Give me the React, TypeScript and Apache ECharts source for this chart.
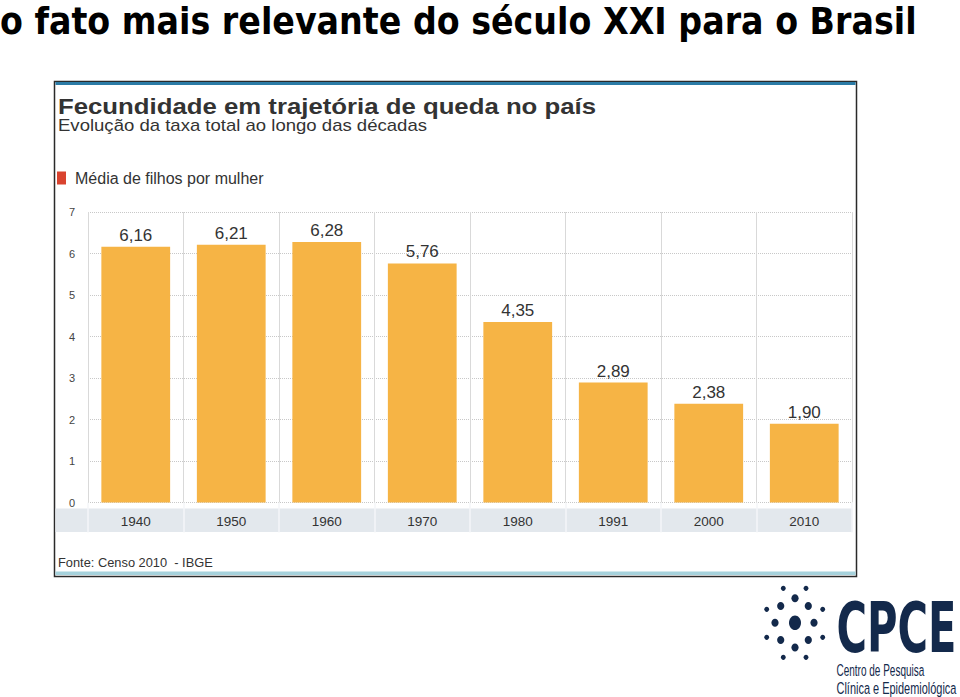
import React, { useEffect, useRef } from 'react';
import * as echarts from 'echarts';

const years = ['1940', '1950', '1960', '1970', '1980', '1991', '2000', '2010'];
const fertility = [6.16, 6.21, 6.28, 5.76, 4.35, 2.89, 2.38, 1.9];
const yMin = 0;
const yMax = 7;
const yInterval = 1;
const seriesName = 'Média de filhos por mulher';
const pageTitle = 'o fato mais relevante do século XXI para o Brasil';
const chartTitle = 'Fecundidade em trajetória de queda no país';
const chartSubtitle = 'Evolução da taxa total ao longo das décadas';
const sourceText = 'Fonte: Censo 2010  - IBGE';
const logoName = 'CPCE';
const logoLines = ['Centro de Pesquisa', 'Clínica e Epidemiológica'];

const NAVY = '#13294B';
const ARIAL = '"Liberation Sans", Arial, sans-serif';
const DEJAVU = '"DejaVu Sans", Verdana, sans-serif';

function fitScale(text: string, font: string, target: number): number {
  const ctx = document.createElement('canvas').getContext('2d');
  if (!ctx) return 1;
  ctx.font = font;
  const w = ctx.measureText(text).width;
  return w > 0 ? target / w : 1;
}

function fittedText(
  text: string,
  x: number,
  y: number,
  size: number,
  weight: string,
  family: string,
  fill: string,
  targetWidth: number,
  z = 10
) {
  const font = `${weight} ${size}px ${family}`;
  const s = fitScale(text, font, targetWidth);
  return {
    type: 'text',
    x,
    y,
    scaleX: s,
    z,
    style: {
      text,
      fill,
      fontSize: size,
      fontWeight: weight,
      fontFamily: family,
      textAlign: 'left',
      align: 'left',
      textVerticalAlign: 'middle',
      verticalAlign: 'middle',
    },
  };
}

// logo dots: [dx, dy, rx, ry] relative to center
const logoDots: number[][] = [
  [0, 0, 6, 7.3],
  [0, -24.5, 3.6, 4],
  [-14.3, -16.7, 3.6, 4],
  [13.3, -16.7, 3.6, 4],
  [-20, 0, 3.6, 4],
  [19, 0, 3.6, 4],
  [-14.3, 17.3, 3.6, 4],
  [13.3, 17.3, 3.6, 4],
  [0, 24.7, 3.6, 4],
  [-11.7, -34.4, 2.4, 2.6],
  [11, -34.4, 2.4, 2.6],
  [-28.3, -13.4, 2.4, 2.6],
  [27.7, -13.4, 2.4, 2.6],
  [-28.3, 14.6, 2.4, 2.6],
  [27.7, 14.6, 2.4, 2.6],
  [-11.7, 34.6, 2.4, 2.6],
  [11, 34.6, 2.4, 2.6],
];

export default function App() {
  const ref = useRef<HTMLDivElement>(null);

  useEffect(() => {
    if (!ref.current) return;
    const chart = echarts.init(ref.current, null, { renderer: 'svg' });

    const cx = 795;
    const cy = 622.7;

    const graphics: any[] = [
      // frame
      {
        type: 'rect',
        z: -20,
        shape: { x: 54.5, y: 81.5, width: 802, height: 495 },
        style: { fill: '#ffffff', stroke: '#2a2a2a', lineWidth: 1.5 },
      },
      {
        type: 'rect',
        z: -19,
        shape: { x: 55.5, y: 82, width: 800, height: 3 },
        style: { fill: '#2B7BA6' },
      },
      {
        type: 'rect',
        z: -19,
        shape: { x: 55.5, y: 571.5, width: 800, height: 3.5 },
        style: { fill: '#A6D2DC' },
      },
      // x axis band
      {
        type: 'rect',
        z: -10,
        shape: { x: 55.5, y: 508.5, width: 797, height: 23.5 },
        style: { fill: '#E3E8ED' },
      },
      // page title
      fittedText(pageTitle, 0, 20.5, 38, 'bold', DEJAVU, '#000000', 917),
      // chart title & subtitle
      fittedText(chartTitle, 58, 106.5, 21.5, 'bold', ARIAL, '#333333', 538),
      fittedText(chartSubtitle, 58, 125.5, 17, 'normal', ARIAL, '#333333', 369),
      fittedText(sourceText, 58, 563, 12.5, 'normal', ARIAL, '#333333', 155),
      // logo text
      fittedText(logoName, 836.5, 627.5, 69, 'bold', DEJAVU, NAVY, 120),
      fittedText(logoLines[0], 836.5, 670.5, 16.5, 'normal', ARIAL, NAVY, 88),
      fittedText(logoLines[1], 836.5, 688, 16.5, 'normal', ARIAL, NAVY, 120),
    ];
    logoDots.forEach((d) => {
      graphics.push({
        type: 'ellipse',
        z: 10,
        shape: { cx: cx + d[0], cy: cy + d[1], rx: d[2], ry: d[3] },
        style: { fill: NAVY },
      });
    });

    chart.setOption({
      animation: false,
      backgroundColor: '#ffffff',
      legend: {
        show: true,
        left: 57,
        top: 170,
        padding: 0,
        icon: 'rect',
        itemWidth: 9,
        itemHeight: 13,
        selectedMode: false,
        data: [{ name: seriesName, itemStyle: { color: '#D9432F' } }],
        textStyle: {
          fontSize: 16,
          color: '#333333',
          fontFamily: ARIAL,
          padding: [0, 0, 0, 4],
        },
      },
      grid: {
        left: 88,
        right: 108,
        top: 212,
        bottom: 697 - 502.5,
        containLabel: false,
      },
      xAxis: {
        type: 'category',
        data: years,
        boundaryGap: true,
        axisLine: { show: false },
        axisTick: {
          show: true,
          length: 30,
          lineStyle: { color: '#F4F6F8', width: 1.5 },
        },
        axisLabel: {
          margin: 12,
          fontSize: 13.5,
          color: '#333333',
          fontFamily: ARIAL,
        },
        splitLine: {
          show: true,
          lineStyle: { color: '#D9D9D9', width: 1, type: 'solid' },
        },
      },
      yAxis: {
        type: 'value',
        min: yMin,
        max: yMax,
        interval: yInterval,
        axisLine: { show: false },
        axisTick: { show: false },
        axisLabel: {
          margin: 13,
          fontSize: 11,
          color: '#444444',
          fontFamily: ARIAL,
        },
        splitLine: {
          show: true,
          lineStyle: { color: '#C8C8C8', width: 1, type: 'dotted' },
        },
      },
      series: [
        {
          name: seriesName,
          type: 'bar',
          data: fertility,
          barWidth: '72%',
          itemStyle: { color: '#F6B445' },
          label: {
            show: true,
            position: 'top',
            distance: 3,
            fontSize: 17,
            color: '#333333',
            fontFamily: ARIAL,
            formatter: (p: any) => Number(p.value).toFixed(2).replace('.', ','),
          },
        },
      ],
      graphic: { elements: graphics },
    });

    return () => {
      chart.dispose();
    };
  }, []);

  return (
    <div
      ref={ref}
      style={{
        position: 'fixed',
        left: 0,
        top: 0,
        width: 960,
        height: 697,
        background: '#ffffff',
      }}
    />
  );
}
